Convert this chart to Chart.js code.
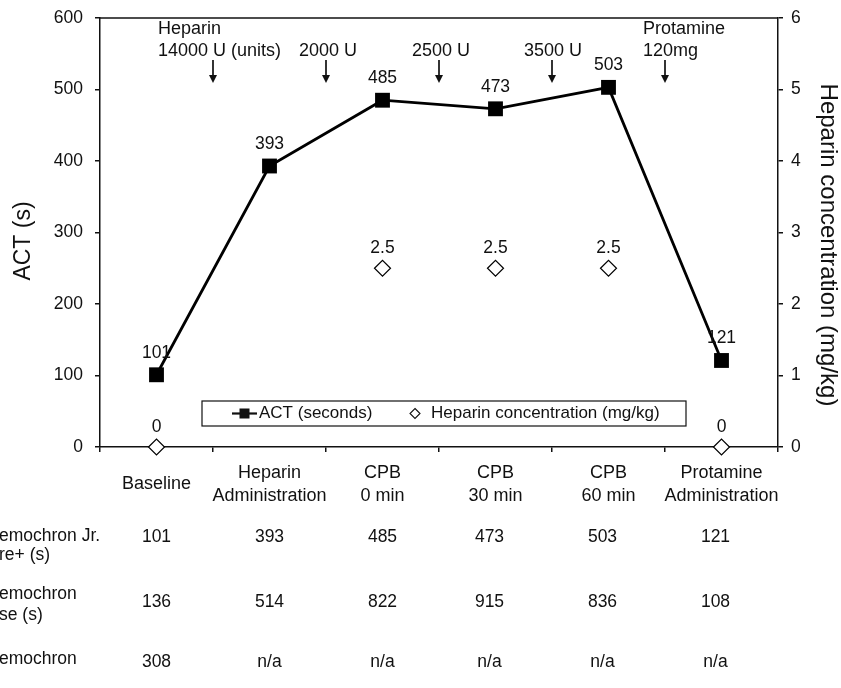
<!DOCTYPE html>
<html>
<head>
<meta charset="utf-8">
<script src="https://cdn.jsdelivr.net/npm/chart.js@4/dist/chart.umd.min.js"></script>
<style>
  html, body { margin: 0; padding: 0; background: #fff; }
  #wrap { width: 841px; height: 688px; }
</style>
</head>
<body>
<div id="wrap"><canvas id="c" width="841" height="688"></canvas></div>
<script>
// ---- data ----
const categories = [["Baseline"], ["Heparin", "Administration"], ["CPB", "0 min"], ["CPB", "30 min"], ["CPB", "60 min"], ["Protamine", "Administration"]];
const actSeconds = [101, 393, 485, 473, 503, 121];
const heparinConc = [0, null, 2.5, 2.5, 2.5, 0];
const doseNotes = [["Heparin", "14000 U (units)"], ["2000 U"], ["2500 U"], ["3500 U"], ["Protamine", "120mg"]];
const actTicks = [0, 100, 200, 300, 400, 500, 600];
const concTicks = [0, 1, 2, 3, 4, 5, 6];
const tableRowLabels = [["emochron Jr.", "re+ (s)"], ["emochron", "se (s)"], ["emochron"]];
const tableJrSignature = [101, 393, 485, 473, 503, 121];
const tableResponse = [136, 514, 822, 915, 836, 108];
const tableThird = ["308", "n/a", "n/a", "n/a", "n/a", "n/a"];
const leftTitle = "ACT (s)";
const rightTitle = "Heparin concentration (mg/kg)";
const legendLabels = ["ACT (seconds)", "Heparin concentration (mg/kg)"];

const FONT = '"Liberation Sans", Arial, Helvetica, sans-serif';
const INK = '#111';

const overlay = {
  id: 'overlay',
  afterDatasetsDraw(chart) {
    const ctx = chart.ctx;
    const ca = chart.chartArea;
    const xs = chart.scales.x;
    const step = xs.getPixelForValue(1) - xs.getPixelForValue(0);
    ctx.save();
    // top frame line
    ctx.strokeStyle = INK; ctx.lineWidth = 1.5;
    ctx.beginPath(); ctx.moveTo(ca.left, ca.top); ctx.lineTo(ca.right, ca.top); ctx.stroke();

    // data labels
    ctx.fillStyle = INK;
    ctx.textAlign = 'center'; ctx.textBaseline = 'middle';
    ctx.font = '17.5px ' + FONT;
    chart.getDatasetMeta(0).data.forEach((pt, i) => {
      ctx.fillText(String(actSeconds[i]), pt.x, pt.y - 22);
    });
    chart.getDatasetMeta(1).data.forEach((pt, i) => {
      if (heparinConc[i] === null) return;
      ctx.fillText(String(heparinConc[i]), pt.x, pt.y - 20);
    });

    // dose annotations with arrows (between categories)
    ctx.font = '18px ' + FONT;
    const noteShift = [-55, 2, 2, 1, -22];
    doseNotes.forEach((lines, j) => {
      const bx = xs.getPixelForValue(j) + step / 2;
      if (lines.length > 1) {
        ctx.textAlign = 'left';
        ctx.fillText(lines[0], bx + noteShift[j], ca.top + 11);
        ctx.fillText(lines[1], bx + noteShift[j], ca.top + 33);
      } else {
        ctx.textAlign = 'center';
        ctx.fillText(lines[0], bx + noteShift[j], ca.top + 33);
      }
      ctx.lineWidth = 1.7;
      ctx.beginPath(); ctx.moveTo(bx, ca.top + 42); ctx.lineTo(bx, ca.top + 59); ctx.stroke();
      ctx.beginPath();
      ctx.moveTo(bx - 4, ca.top + 57); ctx.lineTo(bx + 4, ca.top + 57); ctx.lineTo(bx, ca.top + 65);
      ctx.closePath(); ctx.fill();
    });

    // legend box
    const lx = ca.left + 102, lr = ca.left + 586, lt = ca.bottom - 46, lb = ca.bottom - 21;
    const ly = (lt + lb) / 2;
    ctx.fillStyle = '#fff';
    ctx.fillRect(lx, lt, lr - lx, lb - lt);
    ctx.strokeStyle = INK; ctx.lineWidth = 1.2;
    ctx.strokeRect(lx, lt, lr - lx, lb - lt);
    ctx.fillStyle = INK;
    ctx.lineWidth = 2.2;
    ctx.beginPath(); ctx.moveTo(lx + 30, ly); ctx.lineTo(lx + 55, ly); ctx.stroke();
    ctx.fillRect(lx + 37.5, ly - 5, 10, 10);
    ctx.font = '17px ' + FONT;
    ctx.textAlign = 'left';
    ctx.fillText(legendLabels[0], lx + 57, ly);
    const dx = lx + 213;
    ctx.lineWidth = 1.1;
    ctx.beginPath();
    ctx.moveTo(dx, ly - 5); ctx.lineTo(dx + 5, ly); ctx.lineTo(dx, ly + 5); ctx.lineTo(dx - 5, ly);
    ctx.closePath(); ctx.stroke();
    ctx.fillText(legendLabels[1], lx + 229, ly);

    // axis titles
    ctx.font = '23px ' + FONT;
    ctx.textAlign = 'center';
    ctx.save();
    ctx.translate(24, ca.top + 223);
    ctx.rotate(-Math.PI / 2);
    ctx.fillText(leftTitle, 0, 0);
    ctx.restore();
    ctx.font = '24px ' + FONT;
    ctx.save();
    ctx.translate(828, ca.top + 227);
    ctx.rotate(Math.PI / 2);
    ctx.fillText(rightTitle, 0, 0);
    ctx.restore();

    // data table under the chart
    ctx.font = '17.5px ' + FONT;
    const rowY = [ca.bottom + 90, ca.bottom + 155, ca.bottom + 215];
    const labelY = [[ca.bottom + 89, ca.bottom + 108], [ca.bottom + 147, ca.bottom + 168], [ca.bottom + 212]];
    const rows = [tableJrSignature, tableResponse, tableThird];
    rows.forEach((vals, r) => {
      ctx.textAlign = 'left';
      tableRowLabels[r].forEach((t, k) => ctx.fillText(t, -1, labelY[r][k]));
      ctx.textAlign = 'center';
      vals.forEach((v, i) => {
        const cx = xs.getPixelForValue(i) - (i >= 3 ? 6 : 0);
        ctx.fillText(String(v), cx, rowY[r]);
      });
    });
    ctx.restore();
  }
};

new Chart(document.getElementById('c'), {
  type: 'line',
  data: {
    labels: categories,
    datasets: [
      {
        label: legendLabels[0],
        data: actSeconds,
        yAxisID: 'y',
        borderColor: '#000',
        backgroundColor: '#000',
        borderWidth: 2.8,
        pointStyle: 'rect',
        pointRadius: 10.5,
        pointBackgroundColor: '#000',
        pointBorderColor: '#000',
        pointBorderWidth: 0,
        tension: 0,
        clip: false
      },
      {
        label: legendLabels[1],
        data: heparinConc,
        yAxisID: 'y1',
        showLine: false,
        pointStyle: 'rectRot',
        pointRadius: 8,
        pointBackgroundColor: '#fff',
        pointBorderColor: '#000',
        pointBorderWidth: 1.2,
        clip: false
      }
    ]
  },
  options: {
    responsive: false,
    animation: false,
    devicePixelRatio: 1,
    layout: { padding: { top: 18, left: 0, right: 0, bottom: 0 } },
    plugins: { legend: { display: false }, tooltip: { enabled: false }, title: { display: false } },
    scales: {
      x: {
        type: 'category',
        offset: true,
        grid: { offset: true, drawOnChartArea: false, tickLength: 5, color: INK, lineWidth: 1.5 },
        border: { color: INK, width: 1.5 },
        ticks: {
          color: INK, autoSkip: false, maxRotation: 0, minRotation: 0,
          padding: 21, crossAlign: 'center',
          font: { family: FONT, size: 18, lineHeight: 1.28 }
        },
        afterFit(s) { s.height = 241; s.paddingLeft = 0; s.paddingRight = 0; }
      },
      y: {
        position: 'left',
        min: 0, max: 600,
        afterBuildTicks(s) { s.ticks = actTicks.map(v => ({ value: v })); },
        grid: { drawOnChartArea: false, tickLength: 5, color: INK, lineWidth: 1.5 },
        border: { color: INK, width: 1.5 },
        ticks: { color: INK, padding: 12, font: { family: FONT, size: 17.5 } },
        afterFit(s) { s.width = 100; s.paddingTop = 9; s.paddingBottom = 9; }
      },
      y1: {
        position: 'right',
        min: 0, max: 6,
        afterBuildTicks(s) { s.ticks = concTicks.map(v => ({ value: v })); },
        grid: { drawOnChartArea: false, tickLength: 5, color: INK, lineWidth: 1.5 },
        border: { color: INK, width: 1.5 },
        ticks: { color: INK, padding: 8, font: { family: FONT, size: 17.5 } },
        afterFit(s) { s.width = 63; s.paddingTop = 9; s.paddingBottom = 9; }
      }
    }
  },
  plugins: [overlay]
});
</script>
</body>
</html>
